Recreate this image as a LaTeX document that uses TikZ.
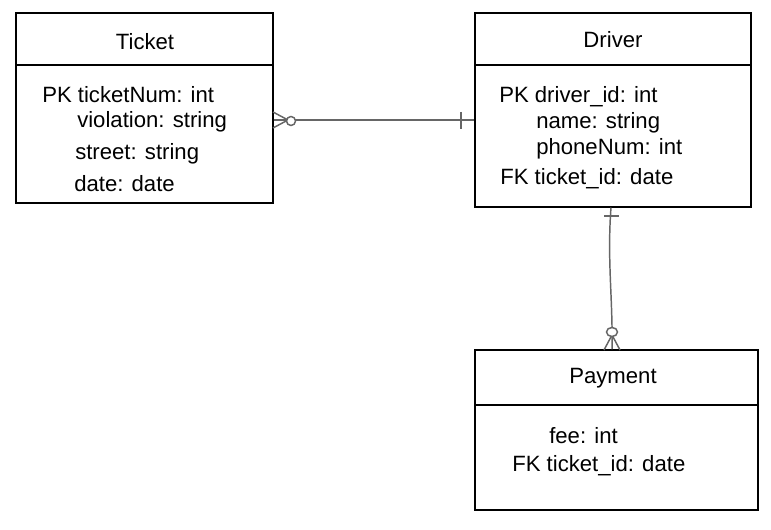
\documentclass[tikz,border=0pt]{standalone}
\usepackage{fontspec}
\setmainfont{Liberation Sans}
\begin{document}
\begin{tikzpicture}[x=0.75pt,y=-0.75pt, font=\fontsize{16.6}{19}\selectfont,
  box/.style={draw=black, line width=0.8pt, inner sep=0pt, fill=white},
  lbl/.style={anchor=west, inner sep=0pt},
  ttl/.style={inner sep=0pt},
  rel/.style={draw=black!60, line width=1.1pt}]
\useasboundingbox (0,0) rectangle (771,530);
% entity boxes
\node[box, minimum width=257*0.75pt, minimum height=190*0.75pt] (ticket) at (144.5,108) {};
\node[box, minimum width=276*0.75pt, minimum height=194*0.75pt] (driver) at (613,110) {};
\node[box, minimum width=283*0.75pt, minimum height=160*0.75pt] (payment) at (616.5,430) {};
% header dividers
\draw[line width=0.8pt] (ticket.west |- 0,65) -- (ticket.east |- 0,65);
\draw[line width=0.8pt] (driver.west |- 0,65) -- (driver.east |- 0,65);
\draw[line width=0.8pt] (payment.west |- 0,405) -- (payment.east |- 0,405);
% titles
\node[ttl] (tt) at (145,42) {Ticket};
\node[ttl] (dt) at (613,40) {Driver};
\node[ttl] (pt) at (613,378) {Payment};
% attributes
\node[lbl] (t1) at (42,95) {PK ticketNum: int};
\node[lbl] (t2) at (77,122) {violation: string};
\node[lbl] (t3) at (75,154) {street: string};
\node[lbl] (t4) at (74,184) {date: date};
\node[lbl] (d1) at (499,97) {PK driver\_id: int};
\node[lbl] (d2) at (536,123) {name: string};
\node[lbl] (d3) at (536,149) {phoneNum: int};
\node[lbl] (d4) at (500,179) {FK ticket\_id: date};
\node[lbl] (p1) at (549,436) {fee: int};
\node[lbl] (p2) at (512,466) {FK ticket\_id: date};
% relation Ticket -- Driver
\coordinate (ra) at (ticket.east |- 0,120);
\coordinate (rb) at (driver.west |- 0,120);
\draw[rel] (ra) -- (rb);
\draw[rel] (273,112) -- (288,120) -- (273,128);
\draw[rel, fill=white] (291,121) circle[radius=4.5];
\draw[rel] (461,112) -- (461,129);
% relation Driver -- Payment
\coordinate (rc) at (driver.south -| 611,0);
\coordinate (rd) at (payment.north -| 612,0);
\draw[rel] (rc) .. controls (607,260) and (613,300) .. (rd);
\draw[rel] (604,216) -- (619,216);
\draw[rel] (604,350) -- (612,335) -- (620,350);
\draw[rel, fill=white] (612,332) ellipse[x radius=5.5, y radius=4.5];
\end{tikzpicture}
\end{document}
